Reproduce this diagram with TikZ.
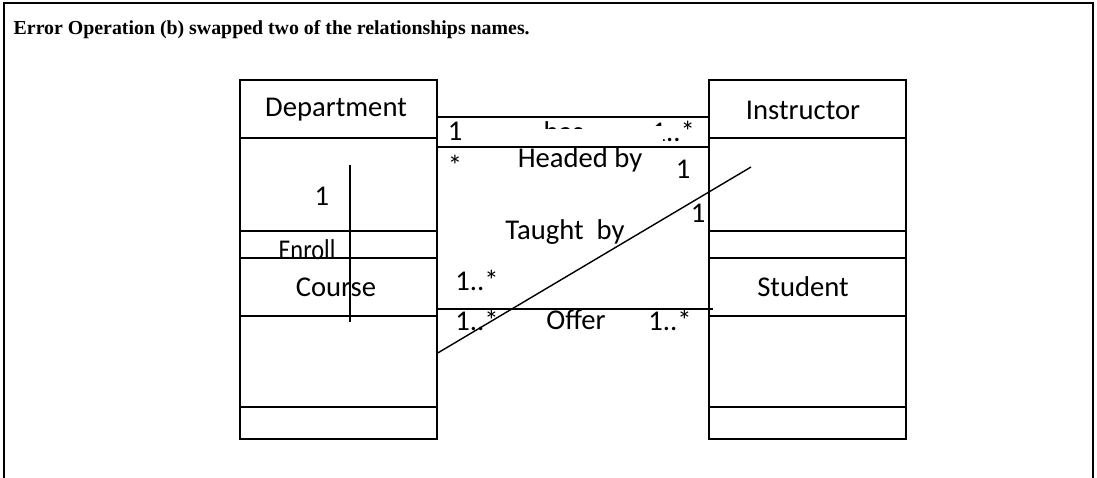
\documentclass[tikz,border=0pt]{standalone}
\usepackage{fontspec}
\setmainfont{Carlito}
\newfontfamily\titlefont{Liberation Serif}
\begin{document}
\begin{tikzpicture}[x=0.02cm, y=-0.02cm, line width=0.8pt,
    classbox/.style={draw, minimum width=3.94cm, minimum height=7.18cm, inner sep=0pt},
    lbl/.style={font=\fontsize{16.3}{19}\selectfont, inner sep=0pt}]
    \useasboundingbox (0,0) rectangle (1097,477);
    % frame
    \draw[line width=1.4pt] (4,490) -- (4,3) -- (1093,3) -- (1093,490);
    \node[anchor=base west, inner sep=0pt, font=\titlefont\bfseries\fontsize{11.3}{13}\selectfont] (title) at (13,34) {Error Operation (b) swapped two of the relationships names.};
    % classes
    \node[classbox] (dept) at (338.5,259.5) {};
    \node[classbox] (instr) at (807.5,259.5) {};
    \foreach \y in {138,231,258,316,407} {
        \draw (dept.west |- 0,\y) -- (dept.east |- 0,\y);
        \draw (instr.west |- 0,\y) -- (instr.east |- 0,\y);
    }
    \node[lbl] (deptname) at (336,110) {Department};
    \node[lbl] (coursename) at (336,287) {Course};
    \node[lbl] (instrname) at (803,110) {Instructor};
    \node[lbl] (studname) at (803,287) {Student};
    % enroll
    \coordinate (enrtop) at (350,165);
    \coordinate (enrbot) at (350,322);
    \draw (enrtop) -- (enrbot);
    \node[lbl] (enrone) at (322,196) {1};
    \node[lbl, anchor=base, xscale=0.85] (enroll) at (307,259) {Enroll};
    % has
    \draw (dept.east |- 0,117) -- (instr.west |- 0,117);
    \draw (dept.east |- 0,147) -- (instr.west |- 0,147);
    \node[lbl] (hasone) at (455,131) {1};
    \begin{scope}
        \clip (530,118) rectangle (610,128.5);
        \node[lbl, anchor=base west] (has) at (543,141) {has};
    \end{scope}
    \node[lbl, anchor=base west] (hasmany) at (651,141) {1..*};
    \fill[white] (649,126) rectangle (663,146);
    % headed by
    \node[lbl] (headstar) at (455,165) {*};
    \node[lbl] (headed) at (580,160) {Headed by};
    \node[lbl] (headone) at (683,169) {1};
    % taught by
    \coordinate (taughtend) at (751,167);
    \draw (dept.east |- 0,353) -- (taughtend);
    \node[lbl] (taughtone) at (698,213) {1};
    \node[lbl] (taught) at (565,232) {Taught\ \ by};
    % offer
    \coordinate (offerend) at (713,309);
    \draw (dept.east |- 0,309) -- (offerend);
    \node[lbl] (offerup) at (477,280) {1..*};
    \node[lbl] (offerleft) at (477,320) {1..*};
    \node[lbl] (offer) at (576,320) {Offer};
    \node[lbl] (offerright) at (670,320) {1..*};
\end{tikzpicture}
\end{document}
